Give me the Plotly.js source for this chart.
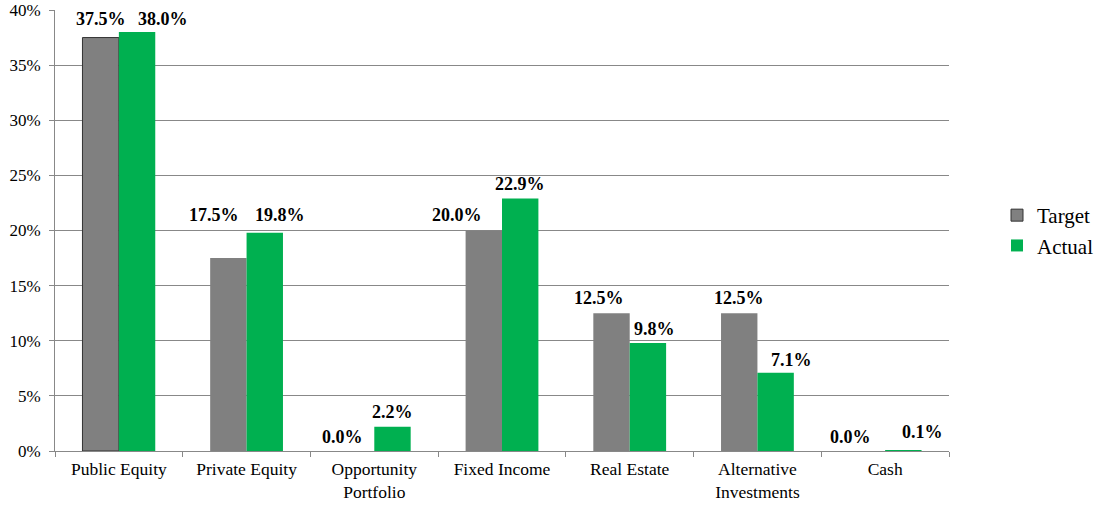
<!DOCTYPE html>
<html>
<head>
<meta charset="utf-8">
<script src="https://cdn.plot.ly/plotly-3.0.1.min.js"></script>
<style>html,body{margin:0;padding:0;background:#fff;}#chart{width:1099px;height:505px;}</style>
</head>
<body>
<div id="chart"></div>
<script>
const categories = ["Public Equity", "Private Equity", "Opportunity<br>Portfolio", "Fixed Income", "Real Estate", "Alternative<br>Investments", "Cash"];
const targetValues = [37.5, 17.5, 0.0, 20.0, 12.5, 12.5, 0.0];
const actualValues = [38.0, 19.8, 2.2, 22.9, 9.8, 7.1, 0.1];
const yTicks = [0, 5, 10, 15, 20, 25, 30, 35, 40];

// label nudges (pixels) to mimic the manually placed data labels of the original
const targetLabelDx = [0, -14, -14, -27, -13, 0, -16];
const targetLabelDy = [19, 43, 14, 16, 15, 15, 14];
const actualLabelDx = [26, 15, 0, 0, 7, 16, 19];
const actualLabelDy = [13, 18, 15, 15, 14, 13, 18];

const W = 1099, H = 505;
const margin = {l: 55, r: 150, t: 10, b: 54, autoexpand: false};
const bargap = 0.43;
const plotW = W - margin.l - margin.r;
const halfBar = plotW / categories.length * (1 - bargap) / 4;

const labelFont = {family: "Liberation Serif, Times New Roman, serif", size: 18, color: "#000"};

const traces = [
  {
    type: "bar", name: "Target", x: categories, y: targetValues, legendgroup: "t",
    marker: {color: "#808080", line: {color: targetValues.map((v, i) => i === 0 ? "#333333" : "#808080"), width: targetValues.map((v, i) => i === 0 ? 1 : 0)}},
    hoverinfo: "none"
  },
  {
    type: "bar", name: "Actual", x: categories, y: actualValues, legendgroup: "a",
    marker: {color: "#00B050"},
    hoverinfo: "none"
  }
];

const annotations = [];
categories.forEach((c, i) => {
  annotations.push({x: c, y: targetValues[i], xref: "x", yref: "y", text: "<b>" + targetValues[i].toFixed(1) + "%</b>",
    showarrow: false, xanchor: "center", yanchor: "middle", xshift: -halfBar + targetLabelDx[i], yshift: targetLabelDy[i], font: labelFont});
  annotations.push({x: c, y: actualValues[i], xref: "x", yref: "y", text: "<b>" + actualValues[i].toFixed(1) + "%</b>",
    showarrow: false, xanchor: "center", yanchor: "middle", xshift: halfBar + actualLabelDx[i], yshift: actualLabelDy[i], font: labelFont});
});

const layout = {
  width: W, height: H,
  margin: margin,
  paper_bgcolor: "#fff", plot_bgcolor: "#fff",
  barmode: "group", bargap: bargap, bargroupgap: 0,
  font: {family: "Liberation Serif, Times New Roman, serif", size: 17, color: "#000"},
  xaxis: {
    tickson: "boundaries", ticks: "outside", ticklen: 5, tickcolor: "#888",
    showline: true, linecolor: "#888", linewidth: 1, ticklabelstandoff: 2,
    showgrid: false, tickfont: {size: 17.5}, automargin: false
  },
  yaxis: {
    range: [0, 40], tickvals: yTicks, ticktext: yTicks.map(v => v + "%"),
    ticks: "outside", ticklen: 5, tickcolor: "#888", ticklabelstandoff: 5,
    showline: true, linecolor: "#888", linewidth: 1,
    showgrid: true, gridcolor: "#888", gridwidth: 1, zeroline: false,
    tickfont: {size: 17}, automargin: false
  },
  legend: {x: 1.0537, y: 0.5, xanchor: "left", yanchor: "middle", font: {size: 21}, itemwidth: 30, tracegroupgap: 0, traceorder: "grouped"},
  annotations: annotations,
  showlegend: true
};

Plotly.newPlot("chart", traces, layout, {staticPlot: true});
</script>
</body>
</html>
